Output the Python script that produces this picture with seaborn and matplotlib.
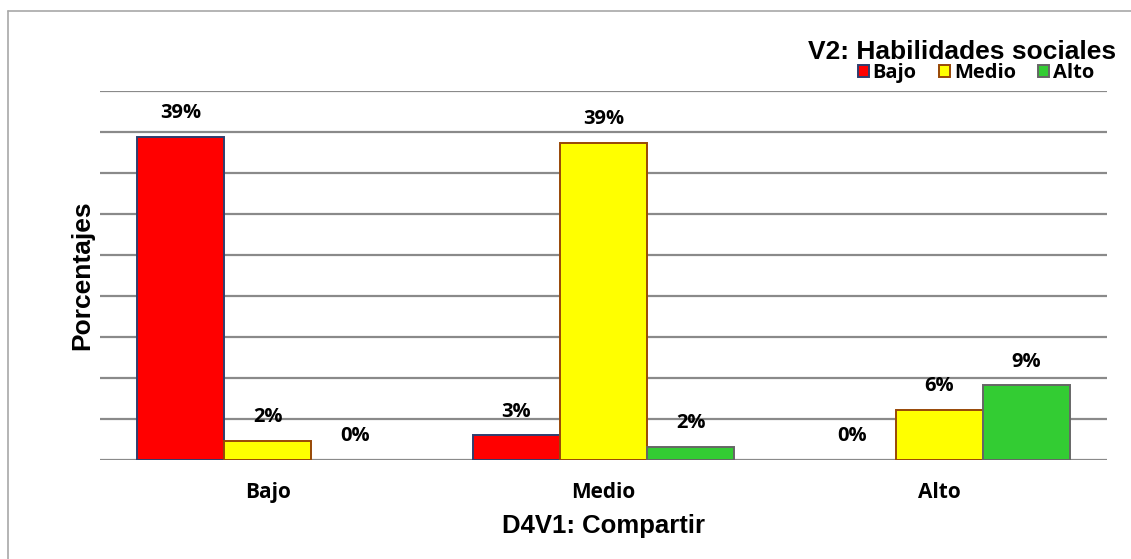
import matplotlib
matplotlib.use("Agg")
import matplotlib.pyplot as plt
from matplotlib.patches import Patch
from matplotlib.lines import Line2D
import seaborn as sns
import pandas as pd

# ---- data ----
categories = ["Bajo", "Medio", "Alto"]          # D4V1: Compartir
series = ["Bajo", "Medio", "Alto"]              # V2: Habilidades sociales
vals_bajo = [39.4, 3.0, 0.0]
vals_medio = [2.3, 38.7, 6.1]
vals_alto = [0.0, 1.6, 9.1]

colors = ["#FF0000", "#FFFF00", "#33CC33"]
edges = ["#2F3E6E", "#984807", "#666666"]

rows = []
for s, vals in zip(series, [vals_bajo, vals_medio, vals_alto]):
    for c, v in zip(categories, vals):
        rows.append({"cat": c, "serie": s, "pct": v})
df = pd.DataFrame(rows)

sns.set_theme(style="white")
plt.rcParams["font.family"] = ["Liberation Sans", "DejaVu Sans"]
plt.rcParams["text.color"] = "black"
plt.rcParams["axes.labelcolor"] = "black"
plt.rcParams["xtick.color"] = "black"

fig = plt.figure(figsize=(11.31, 5.59), dpi=100)
ax = fig.add_axes([100/1131, 1-460/559, 1007/1131, 369/559])

sns.barplot(data=df, x="cat", y="pct", hue="serie", order=categories,
            hue_order=series, palette=colors, saturation=1, width=0.78,
            legend=False, ax=ax)

for cont, ec in zip(ax.containers, edges):
    for p in cont:
        p.set_edgecolor(ec)
        p.set_linewidth(1.4 if p.get_height() > 0 else 0)
    ax.bar_label(cont, fmt="{:.0f}%", padding=10,
                 fontsize=14.5, fontweight="bold", family="Open Sans", color="black")

ax.set_ylim(0, 45.05)
ax.set_yticks([0, 5, 10, 15, 20, 25, 30, 35, 40, 45])
ax.set_yticklabels([])
ax.grid(axis="y", color="#8a8a8a", linewidth=1.6)
ax.set_axisbelow(True)
for sp in ax.spines.values():
    sp.set_visible(False)
ax.tick_params(axis="both", length=0)
ax.tick_params(axis="x", pad=16)
for t in ax.get_xticklabels():
    t.set_fontfamily("Open Sans")
    t.set_fontweight("bold")
    t.set_fontsize(15)
    t.set_color("black")

ax.set_xlabel("D4V1: Compartir", fontsize=18.5, fontweight="bold", labelpad=8)
ax.set_ylabel("Porcentajes", fontsize=19, fontweight="bold", labelpad=1)

# legend
fig.text(962/1131, 1-52/559, "V2: Habilidades sociales", ha="center", va="center",
         fontsize=19, fontweight="bold")
handles = [Patch(facecolor=c, edgecolor=e, linewidth=1.4) for c, e in zip(colors, edges)]
fig.legend(handles, series, loc="center", bbox_to_anchor=(976/1131, 1-73/559),
           ncol=3, frameon=False, handlelength=0.55, handleheight=0.55,
           handletextpad=0.2, columnspacing=1.1,
           prop={"family": "Open Sans", "weight": "bold", "size": 14.5})

# outer frame (left & top visible)
fig.add_artist(Line2D([8/1131, 8/1131], [0, 1-11/559], transform=fig.transFigure,
                      color="#a8a8a8", linewidth=1.2))
fig.add_artist(Line2D([8/1131, 1], [1-11/559, 1-11/559], transform=fig.transFigure,
                      color="#a8a8a8", linewidth=1.2))

fig.savefig("out.png", dpi=100, facecolor="white")
